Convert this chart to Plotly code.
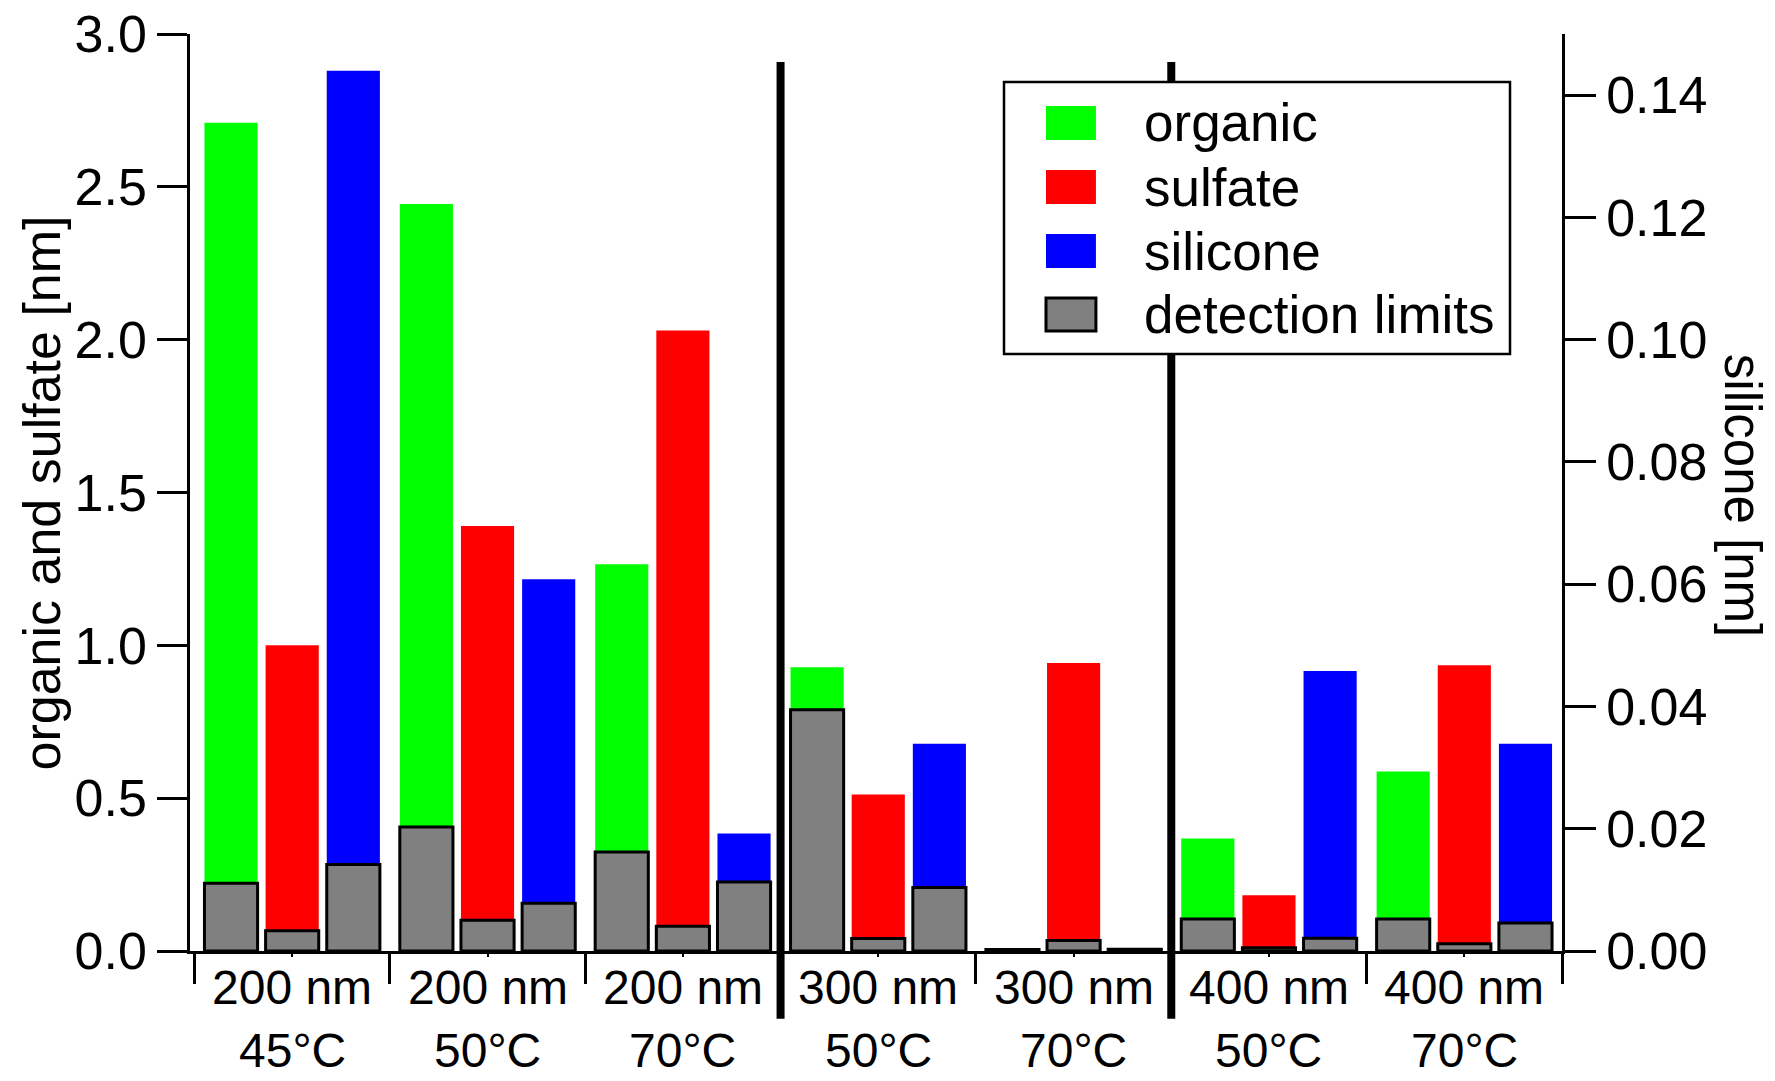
import plotly.graph_objects as go

# ---- data ----
sizes = ["200 nm", "200 nm", "200 nm", "300 nm", "300 nm", "400 nm", "400 nm"]
temps = ["45°C", "50°C", "70°C", "50°C", "70°C", "50°C", "70°C"]
organic = [2.71, 2.444, 1.265, 0.928, 0.010, 0.368, 0.587]
organic_dl = [0.222, 0.406, 0.324, 0.789, 0.005, 0.105, 0.105]
sulfate = [1.0, 1.390, 2.03, 0.512, 0.942, 0.182, 0.935]
sulfate_dl = [0.066, 0.101, 0.081, 0.041, 0.034, 0.011, 0.024]
silicone = [0.144, 0.0608, 0.0192, 0.0339, 0.0005, 0.0458, 0.0339]   # right axis
silicone_dl = [0.01415, 0.0078, 0.0113, 0.0104, 0.0003, 0.0021, 0.0046]
left_ticks = [0.0, 0.5, 1.0, 1.5, 2.0, 2.5, 3.0]
right_ticks = [0.00, 0.02, 0.04, 0.06, 0.08, 0.10, 0.12, 0.14]
legend_names = ["organic", "sulfate", "silicone", "detection limits"]

FONT = "Liberation Sans, Arial, sans-serif"
FS = 52
XFS = 48
W = 0.272
OFF = 0.313
idx = list(range(len(sizes)))
boundaries = [i - 0.5 for i in range(len(sizes) + 1)]

GREEN, RED, BLUE, GRAY = "#00ff00", "#ff0000", "#0000ff", "#808080"

fig = go.Figure()
def bars(vals, shift, color, yaxis="y", outline=False):
    fig.add_trace(go.Bar(
        x=[i + shift for i in idx], y=vals, width=W, yaxis=yaxis,
        marker=dict(color=color,
                    line=dict(color="black", width=3 if outline else 0)),
        showlegend=False, hoverinfo="skip"))

bars(organic, -OFF, GREEN)
bars(sulfate, 0, RED)
bars(organic_dl, -OFF, GRAY, outline=True)
bars(sulfate_dl, 0, GRAY, outline=True)
bars(silicone, OFF, BLUE, yaxis="y2")
bars(silicone_dl, OFF, GRAY, yaxis="y2", outline=True)

shapes = []
# thick separators between particle sizes
for b in (2.5, 4.5):
    shapes.append(dict(type="line", xref="x", yref="paper", x0=b, x1=b,
                       y0=-0.074, y1=0.9695, line=dict(color="black", width=8),
                       layer="above"))
# legend box (manual, to match large swatches)
shapes.append(dict(type="rect", xref="paper", yref="paper", x0=0.5933, x1=0.9621,
                   y0=0.651, y1=0.9477, fillcolor="white",
                   line=dict(color="black", width=2.5), layer="above"))
rows = [(0.9215, 0.8844, GREEN, 0), (0.8517, 0.8146, RED, 0),
        (0.7819, 0.7448, BLUE, 0), (0.7121, 0.6761, GRAY, 3)]
for (ya, yb, c, lw) in rows:
    shapes.append(dict(type="rect", xref="paper", yref="paper", x0=0.6239, x1=0.6603,
                       y0=yb, y1=ya, fillcolor=c,
                       line=dict(color="black", width=lw) if lw else dict(width=0),
                       layer="above"))

annotations = []
for name, (ya, yb, c, lw) in zip(legend_names, rows):
    annotations.append(dict(xref="paper", yref="paper", x=0.694, y=(ya + yb) / 2,
                            text=name, showarrow=False, xanchor="left", yanchor="middle",
                            font=dict(family=FONT, size=53, color="black")))
# two-line category labels (size / temperature)
for i, s, t in zip(idx, sizes, temps):
    annotations.append(dict(xref="x", yref="paper", x=i, y=-0.0393,
                            text=s, showarrow=False, xanchor="center", yanchor="middle",
                            borderpad=0, font=dict(family=FONT, size=XFS, color="black")))
    annotations.append(dict(xref="x", yref="paper", x=i, y=-0.108,
                            text=t, showarrow=False, xanchor="center", yanchor="middle",
                            borderpad=0, font=dict(family=FONT, size=XFS, color="black")))
annotations.append(dict(xref="paper", yref="paper", x=-0.1079, y=0.5,
                        text="organic and sulfate [nm]", textangle=-90, showarrow=False,
                        xanchor="center", yanchor="middle",
                        font=dict(family=FONT, size=52, color="black")))
annotations.append(dict(xref="paper", yref="paper", x=1.1315, y=0.497,
                        text="silicone [nm]", textangle=90, showarrow=False,
                        xanchor="center", yanchor="middle",
                        font=dict(family=FONT, size=51, color="black")))

fig.update_layout(
    width=1775, height=1081,
    margin=dict(l=190, r=213, t=34, b=130, autoexpand=False),
    paper_bgcolor="white", plot_bgcolor="white",
    barmode="overlay", hovermode=False,
    font=dict(family=FONT, size=FS, color="black"),
    xaxis=dict(range=[-0.523, 6.5], tickvals=idx, showticklabels=False,
               ticks="outside", ticklen=3, tickwidth=2, tickcolor="black",
               showline=True, linecolor="black", linewidth=2.5,
               showgrid=False, zeroline=False, automargin=False,
               minor=dict(tickvals=boundaries, ticks="outside", ticklen=30,
                          tickwidth=2.5, tickcolor="black", showgrid=False)),
    yaxis=dict(range=[0, 3.0], tickvals=left_ticks, tickformat=".1f",
               ticks="outside", ticklen=30, tickwidth=2.5, tickcolor="black",
               showline=True, linecolor="black", linewidth=2.5,
               showgrid=False, zeroline=False, automargin=False,
               tickfont=dict(family=FONT, size=FS, color="black")),
    yaxis2=dict(range=[0, 0.15], tickvals=right_ticks, tickformat=".2f",
                overlaying="y", side="right", anchor="x",
                ticks="outside", ticklen=31, tickwidth=2.5, tickcolor="black",
                showline=True, linecolor="black", linewidth=2.5,
                showgrid=False, zeroline=False, automargin=False,
                tickfont=dict(family=FONT, size=FS, color="black")),
    shapes=shapes, annotations=annotations,
)

fig.write_html("out.html")
